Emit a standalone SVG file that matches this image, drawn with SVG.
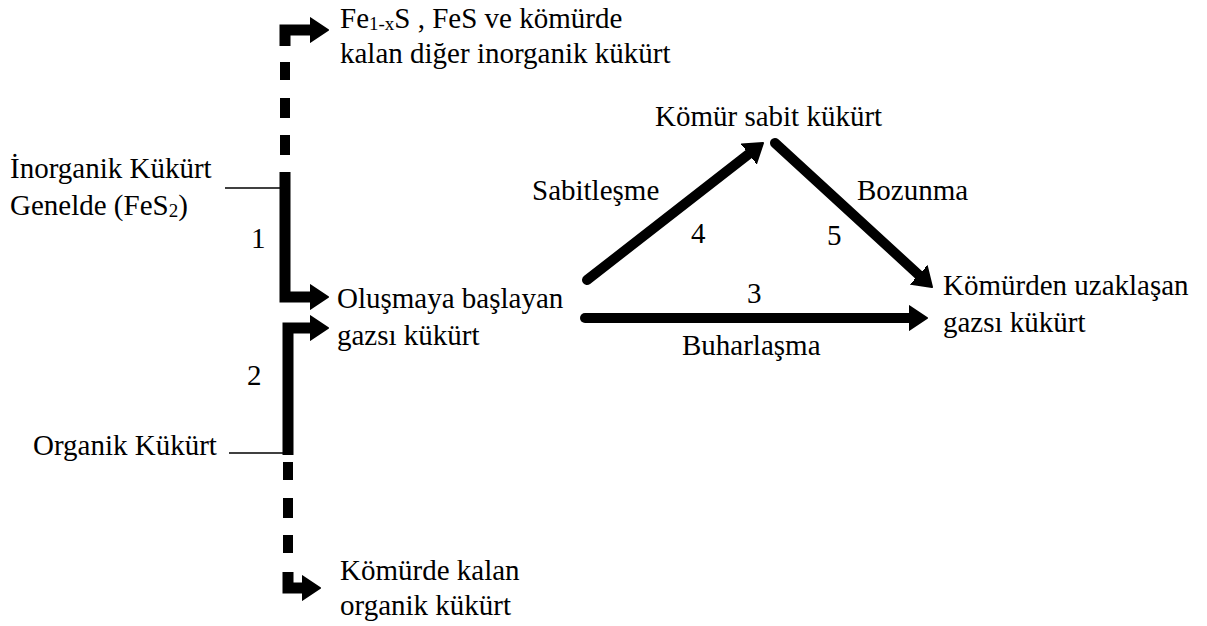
<svg xmlns="http://www.w3.org/2000/svg" width="1207" height="626" viewBox="0 0 1207 626">
<style>
.t{font-family:'Liberation Serif',serif;font-size:29px;fill:#000}
.sub{font-size:19px}
.thick{fill:none;stroke:#000;stroke-width:11;stroke-linejoin:miter}
.diag{fill:none;stroke:#000;stroke-width:10;stroke-linecap:round}
.thin{fill:none;stroke:#000;stroke-width:1.5}
</style>
<defs>
<marker id="ah" markerUnits="userSpaceOnUse" markerWidth="20" markerHeight="26" viewBox="0 0 20 26" refX="2" refY="13" orient="auto">
<path d="M0,1 L18,13 L0,25 z" fill="#000" stroke="#000" stroke-width="2" stroke-linejoin="round"/>
</marker>
</defs>
<rect width="1207" height="626" fill="#fff"/>
<g id="connectors">
<path class="thin" d="M225,188 H282"/>
<path class="thin" d="M229,453 H286"/>
<path class="thick" d="M285,46 V30 H312" marker-end="url(#ah)"/>
<rect x="280" y="62" width="10" height="18"/>
<rect x="280" y="98" width="10" height="20"/>
<rect x="280" y="135" width="10" height="20"/>
<path class="thick" d="M285,172 V297 H312" marker-end="url(#ah)"/>
<path class="thick" d="M288,455 V328 H312" marker-end="url(#ah)"/>
<rect x="283" y="462" width="10" height="18"/>
<rect x="283" y="498" width="10" height="20"/>
<rect x="283" y="535" width="10" height="18"/>
<path class="thick" d="M288,572 V588 H304" marker-end="url(#ah)"/>
<path class="diag" d="M587,280 L750.4,152.8" marker-end="url(#ah)"/>
<path class="diag" d="M775,143 L920.2,276.2" marker-end="url(#ah)"/>
<path class="diag" d="M585,318 L911,318" marker-end="url(#ah)"/>
</g>
<g class="t" font-family="Liberation Serif, serif" font-size="29">
<g id="node-fe">
<text x="340" y="28">Fe<tspan class="sub" font-size="19" dy="2">1-x</tspan><tspan dy="-2">S , FeS ve kömürde</tspan></text>
<text x="340" y="63">kalan diğer inorganik kükürt</text>
</g>
<g id="node-inorganik">
<text x="10" y="178">İnorganik Kükürt</text>
<text x="10" y="215">Genelde (FeS<tspan class="sub" font-size="19" dy="2">2</tspan><tspan dy="-2">)</tspan></text>
</g>
<g id="label-1"><text x="251" y="248">1</text></g>
<g id="label-2"><text x="247" y="385">2</text></g>
<g id="node-organik">
<text x="33" y="455">Organik Kükürt</text>
</g>
<g id="node-olusmaya">
<text x="337" y="308">Oluşmaya başlayan</text>
<text x="337" y="345">gazsı kükürt</text>
</g>
<g id="node-komurde">
<text x="340" y="580">Kömürde kalan</text>
<text x="340" y="615">organik kükürt</text>
</g>
<g id="node-sabit">
<text x="655" y="126">Kömür sabit kükürt</text>
</g>
<g id="node-uzak">
<text x="943" y="295">Kömürden uzaklaşan</text>
<text x="943" y="332">gazsı kükürt</text>
</g>
<g id="edge-labels">
<text x="532" y="200">Sabitleşme</text>
<text x="857" y="200">Bozunma</text>
<text x="682" y="355">Buharlaşma</text>
<text x="691" y="243">4</text>
<text x="827" y="245">5</text>
<text x="747" y="303">3</text>
</g>
</g>
</svg>
